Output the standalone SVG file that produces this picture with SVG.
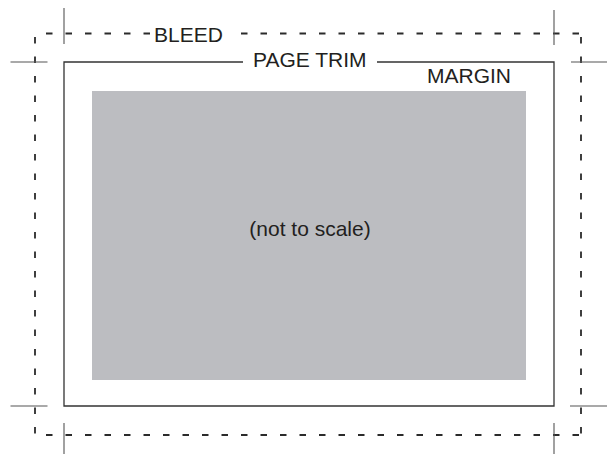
<svg xmlns="http://www.w3.org/2000/svg" width="614" height="454" viewBox="0 0 614 454">
<style>
.lbl{font-family:"Liberation Sans",Arial,sans-serif;font-size:21px;fill:#231f20}
.dash{stroke:#2b2b2b;stroke-width:1.8;stroke-dasharray:6.5 13;fill:none}
.crop{stroke:#555;stroke-width:1.1;fill:none}
.trim{stroke:#333;stroke-width:1.3;fill:none}
</style>
<rect width="614" height="454" fill="#fff"/>
<g id="margin">
<rect x="92" y="91" width="434" height="289" fill="#bcbdc1"/>
<text class="lbl" x="427" y="82.5">MARGIN</text>
<text class="lbl" x="310" y="236" text-anchor="middle">(not to scale)</text>
</g>
<g id="trim">
<path class="trim" d="M243 62 H64 V406 H554 V62 H377"/>
<text class="lbl" x="253" y="66.5">PAGE TRIM</text>
</g>
<g id="bleed">
<path class="dash" d="M35 37 V435"/>
<path class="dash" d="M581 37 V435"/>
<path class="dash" d="M46 435 H581"/>
<path class="dash" d="M46 33.5 H150"/>
<path class="dash" d="M241 33.5 H581"/>
<text class="lbl" x="154" y="41.5">BLEED</text>
</g>
<g id="crop-marks">
<path class="crop" d="M64 8 V44 M10.5 62 H47.5"/>
<path class="crop" d="M554 10 V45 M571 62 H607"/>
<path class="crop" d="M64 423 V454 M10.5 406 H47.5"/>
<path class="crop" d="M554 423 V454 M570 406 H607"/>
</g>
</svg>
